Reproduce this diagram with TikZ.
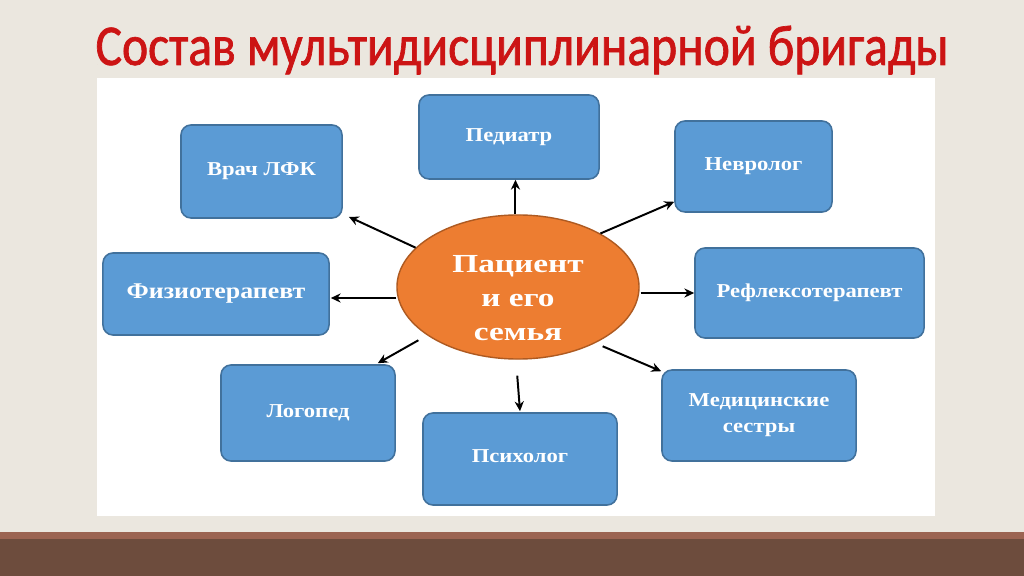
\documentclass[tikz,border=0pt]{standalone}
\usepackage{fontspec}
\usetikzlibrary{arrows.meta,calc,shapes.geometric}
\newfontfamily\boxfont[FakeStretch=1.15]{Liberation Serif}
\newfontfamily\ctrfont[FakeStretch=1.28]{Liberation Serif}
\newfontfamily\ttlfont[FakeStretch=0.86,FakeBold=1.2]{Carlito}
\definecolor{bgbeige}{HTML}{EBE7DF}
\definecolor{bandlight}{HTML}{9B6452}
\definecolor{banddark}{HTML}{6D4C3D}
\definecolor{boxfill}{HTML}{5B9BD5}
\definecolor{boxline}{HTML}{41719C}
\definecolor{ellfill}{HTML}{ED7D31}
\definecolor{ellline}{HTML}{AE5A21}
\definecolor{ttlred}{HTML}{CC1414}
\tikzset{
  box/.style={draw=boxline, line width=1.1pt, fill=boxfill, rounded corners=0.25cm,
    text=white, align=center, font=\boxfont\bfseries\fontsize{14}{18.5}\selectfont},
  bigtext/.style={font=\boxfont\bfseries\fontsize{16}{18.5}\selectfont},
  ctr/.style={ellipse, draw=ellline, line width=1pt, fill=ellfill, inner sep=0pt,
    minimum width=6.05cm, minimum height=3.6cm},
  ctrtext/.style={text=white, align=center, inner sep=0pt,
    font=\ctrfont\bfseries\fontsize{18.5}{24.4}\selectfont},
  link/.style={draw=black, line width=1.4pt, -{Stealth[length=7pt,width=6.5pt]}}
}
\begin{document}
\begin{tikzpicture}[x=0.025cm,y=-0.025cm]
\useasboundingbox (0,0) rectangle (1024,576);
\fill[bgbeige] (0,0) rectangle (1024,576);
\fill[white] (97,78) rectangle (935,516);
\fill[bandlight] (0,532) rectangle (1024,539);
\fill[banddark] (0,539) rectangle (1024,576);
\node[text=ttlred, font=\ttlfont\fontsize{41}{44}\selectfont, anchor=base, inner sep=0pt] (title) at (522,65) {Состав мультидисциплинарной бригады};

\node[ctr] (c) at (518,287) {};
\node[ctrtext] (ctext) at (518,298) {Пациент\\и его\\семья};

\node[box, minimum width=4.5cm, minimum height=2.1cm] (ped) at (509,137) {Педиатр};
\node[box, minimum width=4.025cm, minimum height=2.325cm] (vrach) at (261.5,171.5) {Врач ЛФК};
\node[box, minimum width=3.925cm, minimum height=2.275cm] (nevr) at (753.5,166.5) {Невролог};
\node[box, minimum width=5.725cm, minimum height=2.25cm] (refl) at (809.5,293) {\raisebox{0.06cm}{Рефлексотерапевт}};
\node[box, bigtext, minimum width=5.65cm, minimum height=2.05cm] (fiz) at (216,294) {\raisebox{0.05cm}{Физиотерапевт}};
\node[box, minimum width=4.35cm, minimum height=2.4cm] (log) at (308,413) {\raisebox{0.12cm}{Логопед}};
\node[box, minimum width=4.85cm, minimum height=2.3cm] (psy) at (520,459) {\raisebox{0.14cm}{Психолог}};
\node[box, minimum width=4.85cm, minimum height=2.275cm] (med) at (759,415.5) {Медицинские\\сестры};

\draw[link] (c.92) -- (c.92 |- ped.south);
\draw[link] (c.159) -- ($(vrach.south east)+(6,-2)$);
\draw[link] (c.33) -- ($(nevr.south west)+(0,-11)$);
\draw[link] ($(c.east |- refl.west)+(1,0)$) -- (refl.west);
\draw[link] ($(c.west |- fiz.east)+(0,4)$) -- ($(fiz.east)+(1,4)$);
\draw[link, shorten <=0.25cm] (c.208) -- ($(log.north east)+(-18,-1)$);
\draw[link, shorten <=0.4cm] ($(c.south)+(-2,0)$) -- ($(psy.north)+(0,-1)$);
\draw[link, shorten <=0.2cm] (c.-36) -- ($(med.north west)+(0,2)$);
\end{tikzpicture}
\end{document}
